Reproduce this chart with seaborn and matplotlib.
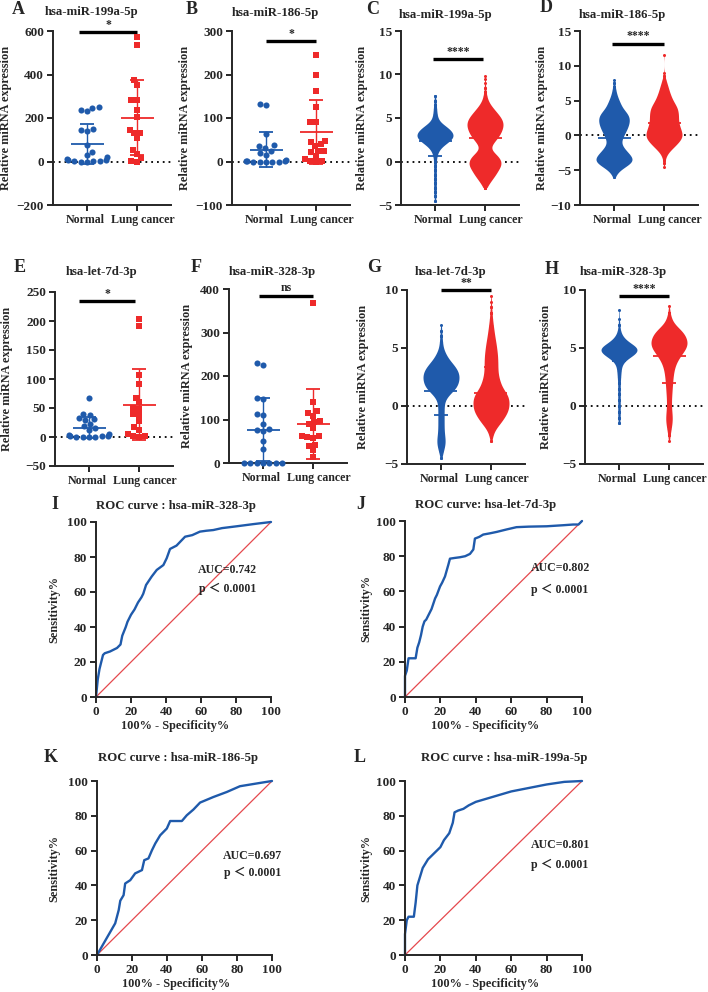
import numpy as np
import seaborn as sns
import matplotlib.pyplot as plt
from matplotlib.transforms import ScaledTranslation

W, H = 708, 992
BLUE = '#1f5aab'
RED = '#ee2a2a'
DIAG = '#e5484d'
groups = ['Normal', 'Lung cancer']

# ---- small dot plots ----
A_norm = [252, 245, 238, 230, 150, 145, 138, 78, 45, 30, 20, 12, 8, 5, 3, 2, 1, 0, 0]
A_canc = [571, 535, 374, 351, 285, 285, 238, 205, 146, 131, 131, 108, 55, 35, 17, 2, 0]
A_stats = [(81, 92), (202, 172)]

B_norm = [133, 130, 63, 37, 35, 30, 25, 20, 15, 3, 2, 1, 1, 0, 0, 0, 0, 0]
B_canc = [245, 199, 161, 125, 90, 90, 48, 45, 40, 36, 25, 25, 21, 13, 5, 2, 1, 0]
B_stats = [(27, 40), (68, 73)]

E_norm = [67, 40, 38, 32, 31, 30, 23, 19, 15, 12, 5, 3, 2, 1, 1, 0, 0, 0, 0]
E_canc = [203, 192, 107, 92, 68, 60, 50, 48, 40, 38, 28, 18, 12, 5, 2, 1, 0]
E_stats = [(16, 18), (56, 61)]

F_norm = [231, 225, 150, 146, 112, 110, 90, 78, 76, 73, 50, 33, 1, 0, 0, 0, 0, 0, 0]
F_canc = [368, 141, 119, 115, 109, 96, 95, 90, 81, 63, 62, 59, 58, 42, 39, 30, 14]
F_stats = [(77, 72), (90, 80)]

# ---- dense swarms: value levels and how wide the swarm is at each level ----
C_norm_lv = [-4.5, -4, -3.5, -3, -2.5, -2, -1.5, -1, -0.5, 0, 0.5, 1, 1.5, 2, 2.5, 3, 3.5, 4, 4.5, 5, 5.5, 6, 6.5, 7, 7.5]
C_norm_w = [2, 3, 4, 4, 4, 4, 4, 4, 4, 4, 5, 8, 15, 30, 50, 57, 50, 35, 15, 8, 6, 5, 4, 3, 2]
C_canc_lv = [-3, -2.5, -2, -1.5, -1, -0.5, 0, 0.5, 1, 1.5, 2, 2.5, 3, 3.5, 4, 4.5, 5, 5.5, 6, 6.5, 7, 7.5, 8, 8.5, 9, 9.5, 9.8]
C_canc_w = [4, 12, 20, 30, 35, 45, 45, 40, 25, 12, 20, 30, 40, 45, 50, 50, 45, 35, 25, 15, 8, 5, 3, 2, 1, 1, 1]
C_stats = [(2.4, 1.8), (2.7, 2.3)]

D_norm_lv = [-6, -5.5, -5, -4.5, -4, -3.5, -3, -2.5, -2, -1.5, -1, -0.5, 0, 0.5, 1, 1.5, 2, 2.5, 3, 3.5, 4, 4.5, 5, 5.5, 6, 6.5, 7, 7.5, 8]
D_norm_w = [2, 6, 12, 25, 40, 45, 40, 32, 25, 18, 15, 18, 22, 26, 30, 33, 35, 35, 33, 25, 18, 15, 12, 8, 6, 4, 3, 2, 1]
D_canc_lv = [-4.5, -4, -3.5, -3, -2.5, -2, -1.5, -1, -0.5, 0, 0.5, 1, 1.5, 2, 2.5, 3, 3.5, 4, 4.5, 5, 5.5, 6, 6.5, 7, 7.5, 8, 8.5, 9, 11.5]
D_canc_w = [1, 2, 3, 5, 10, 18, 27, 35, 42, 45, 43, 40, 37, 35, 35, 35, 34, 32, 27, 22, 18, 15, 12, 10, 7, 5, 2, 1, 1]
D_stats = [(-0.35, 3.0), (1.75, 2.6)]

G_norm_lv = [-4.5, -4, -3.5, -3, -2.5, -2, -1.5, -1, -0.5, 0, 0.5, 1, 1.5, 2, 2.5, 3, 3.5, 4, 4.5, 5, 5.5, 6, 6.5, 7]
G_norm_w = [2, 5, 10, 12, 9, 8, 8, 8, 8, 8, 9, 20, 40, 45, 48, 45, 35, 20, 12, 5, 4, 3, 2, 1]
G_canc_lv = [-3, -2.5, -2, -1.5, -1, -0.5, 0, 0.5, 1, 1.5, 2, 2.5, 3, 3.5, 4, 4.5, 5, 5.5, 6, 6.5, 7, 7.5, 8, 8.5, 9, 9.5]
G_canc_w = [2, 5, 10, 25, 35, 45, 48, 48, 45, 30, 25, 20, 18, 18, 18, 17, 15, 13, 10, 8, 6, 4, 3, 2, 1, 1]
G_stats = [(1.3, 2.1), (1.15, 2.2)]

H_norm_lv = [-1.5, -1, -0.5, 0, 0.5, 1, 1.5, 2, 2.5, 3, 3.5, 4, 4.5, 5, 5.5, 6, 6.5, 7, 7.5, 8.3]
H_norm_w = [2, 3, 3, 3, 3, 3, 3, 3, 4, 5, 6, 15, 42, 50, 22, 8, 3, 2, 1, 1]
H_canc_lv = [-3, -2.5, -2, -1.5, -1, -0.5, 0, 0.5, 1, 1.5, 2, 2.5, 3, 3.5, 4, 4.5, 5, 5.5, 6, 6.5, 7, 7.5, 8, 8.6]
H_canc_w = [1, 3, 5, 8, 9, 7, 6, 6, 7, 8, 9, 10, 12, 15, 22, 32, 45, 48, 42, 35, 12, 6, 3, 1]
H_stats = [(4.7, 0.8), (4.3, 2.3)]

# significance bars: x from, x to, y, label
sig = {
    'A': (-0.16, 1.0, 596, '*'), 'B': (0, 1.0, 277, '*'),
    'C': (-0.04, 0.96, 11.8, '****'), 'D': (-0.04, 1.0, 13.2, '****'),
    'E': (-0.2, 0.92, 234, '*'), 'F': (-0.08, 1.0, 385, 'ns'),
    'G': (0, 1.0, 10.0, '**'), 'H': (0, 1.0, 9.5, '****'),
}

# ---- ROC curves ----
I_fpr = [0, 1, 2, 3, 4, 5, 8, 10, 12, 14, 15, 17, 18, 20, 22, 24, 26, 27, 28.6, 31.8, 34.7, 38.5, 40.4, 42.3, 46, 50.9, 55, 59.4, 63, 67, 72, 80, 90, 100]
I_tpr = [0, 10, 16, 20, 24, 25, 26, 27, 28, 30, 35, 40, 43, 47, 50, 54, 57, 59, 64, 68.8, 72.6, 75.4, 79.3, 84.6, 86.5, 91.6, 92.5, 94.5, 95, 95.4, 96.5, 97.5, 98.8, 100]
J_fpr = [0, 0, 1, 2, 3, 4, 6, 7, 8, 9, 10, 11, 12, 13, 14, 15, 16, 17, 18, 19.8, 21, 22.6, 24.5, 25.4, 28, 31, 34, 36.7, 38.6, 39.5, 42, 44.2, 48, 51.8, 57.4, 63, 70, 80, 89.4, 95, 98, 100]
J_tpr = [0, 12, 15, 22, 22, 22, 22, 28, 31, 35, 40, 43, 44, 46, 48, 50, 53, 56, 58, 62.8, 65, 68.5, 75.2, 78.6, 79, 79.4, 80, 81.3, 83.8, 90, 91, 92.3, 93, 93.8, 95.2, 96.5, 96.8, 97, 97.6, 98, 98, 100]
K_fpr = [0, 10.4, 12.4, 13.3, 15.2, 16.1, 19, 21.8, 25.7, 27, 29.4, 31.4, 33.3, 36.1, 39.9, 41.8, 48.5, 51.3, 55.1, 58.9, 66.5, 74.2, 81.7, 93.2, 100]
K_tpr = [0, 18.2, 25.8, 31.2, 34.4, 41.1, 43, 46.9, 48.8, 54.5, 55.5, 60.2, 64.1, 68.8, 72.7, 77, 77, 80.3, 83.6, 87.6, 90.8, 93.7, 97, 98.9, 100]
L_fpr = [0, 0, 1, 2, 5, 6, 7, 10, 13, 15, 18, 20, 22, 25, 27, 28, 30, 33, 36, 40, 45, 50, 60, 70, 75, 80, 90, 100]
L_tpr = [0, 12, 20, 22, 22, 30, 40, 50, 55, 57, 60, 62, 66, 70, 76, 82, 83, 84, 86, 88, 89.5, 91, 94, 96, 97, 98, 99.5, 100]
roc_auc = {'I': '0.742', 'J': '0.802', 'K': '0.697', 'L': '0.801'}
roc_title = {'I': 'ROC curve : hsa-miR-328-3p', 'J': 'ROC curve: hsa-let-7d-3p',
             'K': 'ROC curve : hsa-miR-186-5p', 'L': 'ROC curve : hsa-miR-199a-5p'}

sns.set_style('ticks')
plt.rcParams['font.family'] = ['Liberation Serif', 'Noto Sans CJK SC']
plt.rcParams['font.weight'] = 'bold'
plt.rcParams['axes.labelweight'] = 'bold'

fig = plt.figure(figsize=(W / 100, H / 100), dpi=100)


def add_ax(l, r, t, b):
    return fig.add_axes([l / W, 1 - b / H, (r - l) / W, (b - t) / H])


def txt(x, y, s, size=9):
    fig.text(x / W, 1 - y / H, s, ha='center', va='center', fontsize=size, fontweight='bold')


def shift(lab, dx):
    lab.set_transform(lab.get_transform() + ScaledTranslation(dx / 100, 0, fig.dpi_scale_trans))


def finish(ax, box, ylim, yticks, bar, lab_px, zero=True):
    l, r = box
    sns.despine(ax=ax)
    for s in ('left', 'bottom'):
        ax.spines[s].set_linewidth(1.4)
    ax.tick_params(width=1.4, length=4.5, pad=2)
    ax.tick_params(axis='y', labelsize=9.5)
    ax.tick_params(axis='x', labelsize=8.6)
    ax.set_xlim(-0.68, 1.68)
    ax.set_ylim(ylim)
    ax.set_yticks(yticks)
    ax.set_xticks([0, 1])
    ax.set_xticklabels(groups)
    labs = ax.get_xticklabels()
    shift(labs[0], -1.5)
    shift(labs[1], 5.5)
    ax.set_xlabel('')
    ax.set_ylabel('Relative miRNA expression', fontsize=8.8)
    ax.yaxis.set_label_coords((lab_px - l) / (r - l), 0.5)
    if zero:
        ax.axhline(0, color='black', lw=1.3, ls=(0, (1, 2.2)), zorder=0)
    x0, x1, y, s = bar
    ax.plot([x0, x1], [y, y], color='black', lw=2.4, solid_capstyle='butt', clip_on=False)
    ax.annotate(s, xy=((x0 + x1) / 2, y), xytext=(0, 0.8), textcoords='offset points',
                ha='center', va='bottom', fontsize=8.5, annotation_clip=False)


def mean_sd(ax, stats):
    for i, (m, sd) in enumerate(stats):
        c = (BLUE, RED)[i]
        ax.hlines(m, i - 0.33, i + 0.33, color=c, lw=1.3, zorder=5)
        ax.errorbar(i, m, yerr=sd, fmt='none', ecolor=c, elinewidth=1, capsize=5.2,
                    capthick=1.3, zorder=5)


def dot_panel(box, tb, norm, canc, stats, ylim, yticks, bar, lab_px, zero=True):
    ax = add_ax(box[0], box[1], tb[0], tb[1])
    sns.swarmplot(x=['Normal'] * len(norm), y=norm, order=groups, color=BLUE, marker='o',
                  size=4.4, ax=ax, clip_on=False, zorder=3)
    sns.swarmplot(x=['Lung cancer'] * len(canc), y=canc, order=groups, color=RED, marker='s',
                  size=4.0, ax=ax, clip_on=False, zorder=3)
    mean_sd(ax, stats)
    finish(ax, box, ylim, yticks, bar, lab_px, zero)


def dense_panel(box, tb, nlv, nw, clv, cw, stats, ylim, yticks, bar, lab_px):
    ax = add_ax(box[0], box[1], tb[0], tb[1])
    for g, lv, w, c in (('Normal', nlv, nw, BLUE), ('Lung cancer', clv, cw, RED)):
        vals = np.repeat(lv, w)
        sns.violinplot(x=[g] * len(vals), y=vals, order=groups, color=c, saturation=1,
                       inner=None, cut=0, density_norm='width', width=0.72, linewidth=0,
                       bw_adjust=0.6, ax=ax)
        sns.stripplot(x=[g] * len(vals), y=vals, order=groups, color=c, jitter=False,
                      size=2.2, linewidth=0, ax=ax)
    mean_sd(ax, stats)
    finish(ax, box, ylim, yticks, bar, lab_px)


row1 = (31, 205)
row2 = (290, 464)
dot_panel((53, 171), row1, A_norm, A_canc, A_stats, (-200, 600), [-200, 0, 200, 400, 600], sig['A'], 12)
dot_panel((232, 350), row1, B_norm, B_canc, B_stats, (-100, 300), [-100, 0, 100, 200, 300], sig['B'], 191)
dense_panel((401, 519), row1, C_norm_lv, C_norm_w, C_canc_lv, C_canc_w, C_stats, (-5, 15), [-5, 0, 5, 10, 15], sig['C'], 368)
dense_panel((580, 698), row1, D_norm_lv, D_norm_w, D_canc_lv, D_canc_w, D_stats, (-10, 15), [-10, -5, 0, 5, 10, 15], sig['D'], 548)
dot_panel((55, 173), (292, 466), E_norm, E_canc, E_stats, (-50, 250), [-50, 0, 50, 100, 150, 200, 250], sig['E'], 13)
dot_panel((229, 347), (289, 463), F_norm, F_canc, F_stats, (0, 400), [0, 100, 200, 300, 400], sig['F'], 193, zero=False)
dense_panel((407, 525), row2, G_norm_lv, G_norm_w, G_canc_lv, G_canc_w, G_stats, (-5, 10), [-5, 0, 5, 10], sig['G'], 369)
dense_panel((585, 703), row2, H_norm_lv, H_norm_w, H_canc_lv, H_canc_w, H_stats, (-5, 10), [-5, 0, 5, 10], sig['H'], 552)

for k, (x, y) in {'A': (18, 9), 'B': (192, 9), 'C': (373, 9), 'D': (546, 8),
                  'E': (20, 268), 'F': (196, 267), 'G': (374, 268), 'H': (552, 270),
                  'I': (55, 505), 'J': (361, 505), 'K': (51, 758), 'L': (360, 758)}.items():
    txt(x, y, k, 13)

for s, (x, y) in {'hsa-miR-199a-5p': (92, 12), 'hsa-miR-186-5p ': (275, 13),
                  'hsa-miR-199a-5p ': (446, 15), 'hsa-miR-186-5p': (622, 15),
                  'hsa-let-7d-3p': (102, 272), 'hsa-miR-328-3p': (272, 272),
                  'hsa-let-7d-3p ': (451, 272), 'hsa-miR-328-3p ': (623, 272)}.items():
    txt(x, y, s.strip(), 9.2)


def roc_panel(key, box, tb, fpr, tpr, auc_xy, lab_px, title_xy):
    l, r = box
    ax = add_ax(l, r, tb[0], tb[1])
    sns.lineplot(x=[0, 100], y=[0, 100], color=DIAG, lw=0.9, ax=ax)
    sns.lineplot(x=fpr, y=tpr, sort=False, estimator=None, color=BLUE, lw=1.7, ax=ax, clip_on=False)
    ax.set_xlim(0, 100)
    ax.set_ylim(0, 100)
    ax.set_xticks(range(0, 101, 20))
    ax.set_yticks(range(0, 101, 20))
    sns.despine(ax=ax)
    for s in ('left', 'bottom'):
        ax.spines[s].set_linewidth(1.4)
    ax.tick_params(width=1.4, length=4.5, labelsize=9.5, pad=2)
    ax.set_xlabel('100% - Specificity%', fontsize=8.8)
    ax.set_ylabel('Sensitivity%', fontsize=8.8)
    ax.yaxis.set_label_coords((lab_px - l) / (r - l), 0.5)
    ax.xaxis.set_label_coords(0.45, -0.13)
    ax.text(auc_xy[0], auc_xy[1], 'AUC=' + roc_auc[key], ha='center', va='center', fontsize=8.6)
    ax.text(auc_xy[0], auc_xy[2], 'p ＜ 0.0001', ha='center', va='center', fontsize=8.6)
    txt(title_xy[0], title_xy[1], roc_title[key], 9.2)


roc_panel('I', (96, 271), (522, 697), I_fpr, I_tpr, (75, 72.6, 61.7), 60, (176, 506))
roc_panel('J', (405, 582), (521, 697), J_fpr, J_tpr, (87.6, 73.5, 61), 372, (486, 505))
roc_panel('K', (97, 272), (781, 955), K_fpr, K_tpr, (89, 56.8, 47), 60, (178, 758))
roc_panel('L', (405, 582), (781, 955), L_fpr, L_tpr, (87.6, 63, 51.7), 372, (504, 758))

fig.savefig('out.png', dpi=100)
